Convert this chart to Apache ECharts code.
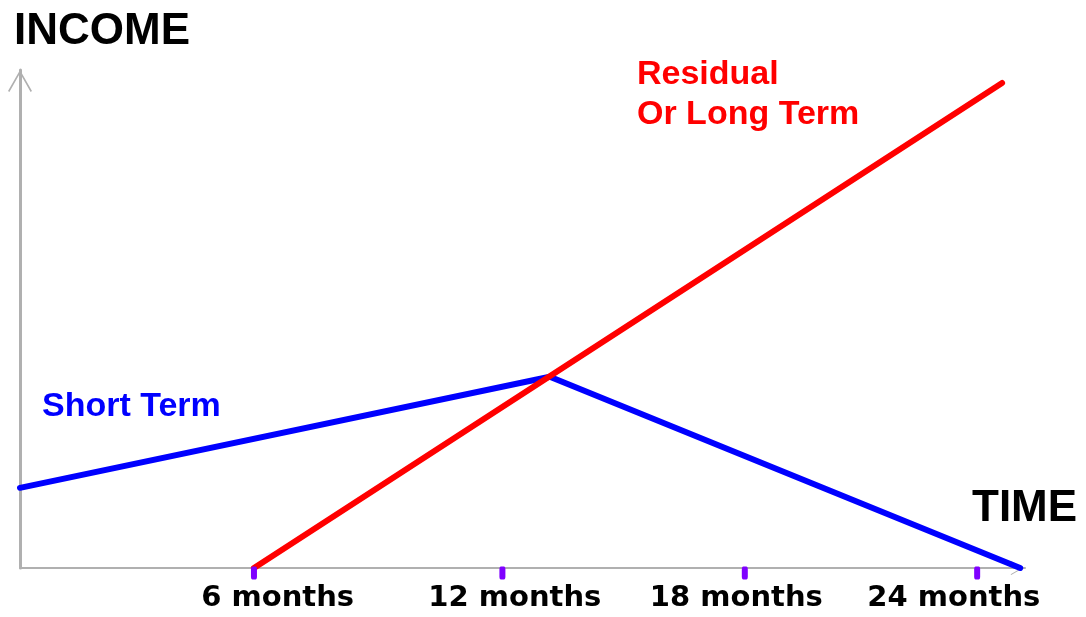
<!DOCTYPE html>
<html>
<head>
<meta charset="utf-8">
<script src="https://cdn.jsdelivr.net/npm/echarts@6/dist/echarts.min.js"></script>
<style>html,body{margin:0;padding:0;background:#fff;}#c{width:1086px;height:617px;}</style>
</head>
<body>
<div id="c"></div>
<script>
// months on x, relative income on y
var shortTerm = [[0, 16.1], [13.18, 38.4], [24.88, 0]];
var residual = [[5.82, 0], [24.43, 97.4]];
var tickMonths = [5.82, 12.0, 18.03, 23.81];
var tickLabels = ['6 months', '12 months', '18 months', '24 months'];
var labelMonths = [6.41, 12.31, 17.82, 23.23];

var chart = echarts.init(document.getElementById('c'), null, {renderer: 'canvas'});
var chevron = 'path://M0,21 L12,0 L24,21 L22.6,21.8 L12,3.2 L1.4,21.8 Z';
var axisColor = '#b0b0b0';

chart.setOption({
  animation: false,
  backgroundColor: '#ffffff',
  title: [
    {text: 'INCOME', left: 9, top: 5, textStyle: {fontFamily: 'Liberation Sans', fontWeight: 'bold', fontSize: 44, color: '#000'}},
    {text: 'TIME', left: 967, top: 482, textStyle: {fontFamily: 'Liberation Sans', fontWeight: 'bold', fontSize: 44, color: '#000'}},
    {text: 'Residual\nOr Long Term', left: 632, top: 50, textStyle: {fontFamily: 'Liberation Sans', fontWeight: 'bold', fontSize: 34, lineHeight: 40, color: '#ff0000'}},
    {text: 'Short Term', left: 37, top: 385, textStyle: {fontFamily: 'Liberation Sans', fontWeight: 'bold', fontSize: 34, color: '#0000ff'}}
  ],
  grid: {left: 20, right: 61, top: 70, bottom: 49, containLabel: false},
  xAxis: {
    type: 'value', min: 0, max: 25,
    splitLine: {show: false}, axisTick: {show: false}, axisLabel: {show: false},
    axisLine: {show: true, lineStyle: {color: axisColor, width: 2},
      symbol: ['none', chevron], symbolSize: [14, 17], symbolOffset: [0, -8]}
  },
  yAxis: {
    type: 'value', min: 0, max: 100,
    splitLine: {show: false}, axisTick: {show: false}, axisLabel: {show: false},
    axisLine: {show: true, onZero: false, lineStyle: {color: axisColor, width: 3},
      symbol: ['none', chevron], symbolSize: [24, 24], symbolOffset: [0, -11]}
  },
  series: [
    {
      type: 'line', data: shortTerm, symbol: 'none', clip: false,
      lineStyle: {color: '#0000ff', width: 6, cap: 'round', join: 'round'}, z: 3
    },
    {
      type: 'line', data: residual, symbol: 'none', clip: false,
      lineStyle: {color: '#ff0000', width: 6, cap: 'round', join: 'round'}, z: 3
    },
    {
      type: 'scatter', clip: false, z: 4,
      data: tickMonths.map(function (m) { return [m, 0]; }),
      symbol: 'roundRect', symbolSize: [6, 13], symbolOffset: [0, 5],
      itemStyle: {color: '#7f00ff', opacity: 1}, silent: true
    },
    {
      type: 'scatter', clip: false, z: 4,
      data: labelMonths.map(function (m, i) { return {value: [m, 0], name: tickLabels[i]}; }),
      symbolSize: 0, silent: true,
      itemStyle: {opacity: 1},
      label: {show: true, position: 'inside', offset: [0, 30], formatter: '{b}',
        fontFamily: 'DejaVu Sans', fontWeight: 'bold', fontSize: 29, color: '#000000',
        opacity: 1, textBorderWidth: 0}
    }
  ]
});
</script>
</body>
</html>
